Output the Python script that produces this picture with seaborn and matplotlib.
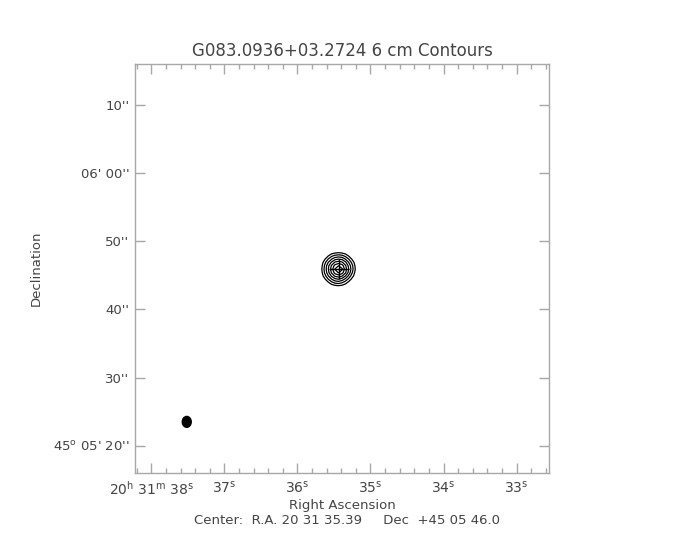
import numpy as np
import matplotlib
matplotlib.use("Agg")
import matplotlib.pyplot as plt
from matplotlib.patches import Ellipse
from matplotlib.ticker import FixedLocator
import seaborn as sns

# ---------------- data ----------------
title = "G083.0936+03.2724 6 cm Contours"
center_ra = [20, 31, 35.39]      # h m s
center_dec = [45, 5, 46.0]       # d ' "
half_field = 30.0                # arcsec

ra_tick_sec = [38, 37, 36, 35, 34, 33]
ra_tick_labels = [r"20$^{\mathrm{h}}$ 31$^{\mathrm{m}}$ 38$^{\mathrm{s}}$",
                  r"37$^{\mathrm{s}}$", r"36$^{\mathrm{s}}$", r"35$^{\mathrm{s}}$",
                  r"34$^{\mathrm{s}}$", r"33$^{\mathrm{s}}$"]
dec_tick_sec = [20, 30, 40, 50, 60, 70]   # arcsec past 45 05 00
dec_tick_labels = [r"45$^{\mathrm{o}}$ 05' 20''", "30''", "40''", "50''",
                   "06' 00''", "10''"]

# source map (0.5 arcsec pixels, rows south->north, columns east->west)
pix_size = 0.5
src_ra_off = 0.5     # arcsec east of centre
src_dec_off = -0.1   # arcsec north of centre
src_map = [
    [0, 0, 0, 0, 3, 5, 3, 0, 0, 0, 0],
    [0, 0, 5, 15, 22, 24, 20, 12, 3, 0, 0],
    [0, 5, 19, 31, 40, 43, 38, 28, 15, 3, 0],
    [0, 15, 31, 46, 58, 62, 57, 44, 28, 12, 0],
    [3, 22, 40, 58, 73, 81, 73, 58, 39, 20, 2],
    [5, 24, 43, 62, 81, 100, 82, 62, 43, 24, 5],
    [3, 22, 41, 58, 73, 80, 74, 58, 40, 22, 3],
    [0, 16, 32, 46, 58, 62, 58, 47, 31, 15, 0],
    [0, 6, 20, 31, 40, 43, 41, 31, 19, 5, 0],
    [0, 0, 6, 16, 22, 24, 22, 15, 5, 0, 0],
    [0, 0, 0, 0, 3, 5, 3, 0, 0, 0, 0],
]
contour_levels = [8, 20, 32, 44, 56, 68, 80]

beam_major = 1.6     # arcsec
beam_minor = 1.3     # arcsec
beam_pa = 0.0        # deg

# ---------------- plot ----------------
sns.set_theme(style="white")
plt.rcParams["font.family"] = ["DejaVu Sans"]
txt = "#444444"
axc = "#a8a8a8"

fig = plt.figure(figsize=(6.84, 5.40), dpi=100)
ax = fig.add_axes([135 / 684, 1 - 473 / 540, 414 / 684, 409 / 540])

dec_deg = center_dec[0] + center_dec[1] / 60 + center_dec[2] / 3600
sec_to_arcsec = 15 * np.cos(np.deg2rad(dec_deg))

# contours (x = arcsec east of centre, drawn increasing to the left)
n = len(src_map)
offs = (np.arange(n) - (n - 1) / 2) * pix_size
xx = src_ra_off - offs          # first column is the easternmost
yy = src_dec_off + offs
Z = np.array(src_map, dtype=float)
ax.contour(xx[::-1], yy, Z[:, ::-1], levels=contour_levels,
           colors="black", linewidths=0.9)
sns.scatterplot(x=[src_ra_off], y=[src_dec_off], marker="+", s=200,
                color="black", linewidth=1.0, ax=ax, legend=False)

# beam (lower-left corner)
ax.add_patch(Ellipse((22.5, -22.5), beam_minor, beam_major, angle=beam_pa,
                     facecolor="black", edgecolor="black"))

ax.set_xlim(half_field, -half_field)
ax.set_ylim(-half_field, half_field)
ax.set_aspect("auto")

ra_ticks = [(s - center_ra[2]) * sec_to_arcsec for s in ra_tick_sec]
ax.set_xticks(ra_ticks)
ax.set_xticklabels(ra_tick_labels)
minor = [(s / 5.0 - center_ra[2]) * sec_to_arcsec for s in range(160, 195)]
ax.xaxis.set_minor_locator(FixedLocator(minor))

dec_ticks = [s - center_dec[2] for s in dec_tick_sec]
ax.set_yticks(dec_ticks)
ax.set_yticklabels(dec_tick_labels)

ax.tick_params(axis="both", which="both", direction="in", top=True, right=True,
               bottom=True, left=True, color=axc, width=1.0, labelcolor=txt)
ax.tick_params(axis="x", which="major", length=7, pad=5, labelsize=10)
ax.tick_params(axis="x", which="minor", length=3.5)
ax.tick_params(axis="y", which="major", length=7, pad=4, labelsize=9.5)

for sp in ax.spines.values():
    sp.set_color(axc)
    sp.set_linewidth(1.0)

ax.set_title(title, color=txt, fontsize=12, pad=6)
ax.set_xlabel("Right Ascension", color=txt, fontsize=9.5, labelpad=1)
ax.set_ylabel("Declination", color=txt, fontsize=9.5, labelpad=7)
fig.text(347 / 684, 1 - 521 / 540,
         "Center:  R.A. 20 31 35.39     Dec  +45 05 46.0",
         ha="center", va="center", color=txt, fontsize=9.5)

fig.savefig("out.png", dpi=100, facecolor="white")
